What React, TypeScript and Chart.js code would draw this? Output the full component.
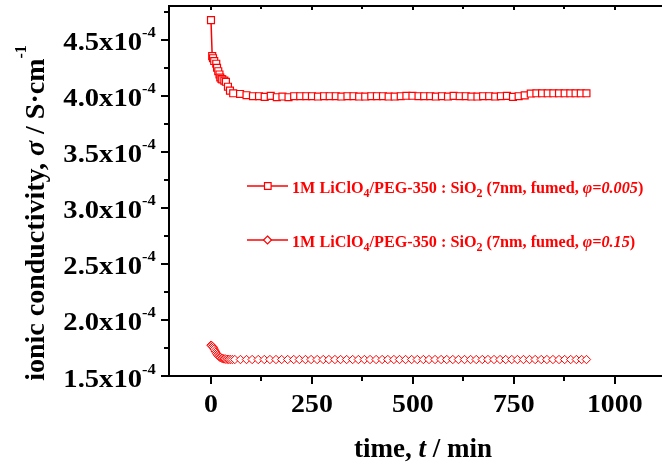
import React, { useEffect, useRef } from 'react';
import { Chart, registerables } from 'chart.js';

Chart.register(...registerables);

// ---- data (time in min, conductivity in S/cm) ----
const sqTime = [0, 3, 5, 8, 13, 15, 18, 21, 23, 26, 28, 33, 37, 42, 47, 55, 72, 88, 104,
  119, 133, 148, 163, 177, 192, 206, 221, 236, 250,
  265, 280, 294, 309, 323, 338, 353, 367, 382, 397,
  411, 426, 440, 455, 470, 484, 499, 514, 528, 543,
  557, 572, 587, 601, 616, 631, 645, 660, 674, 689,
  704, 718, 733, 748, 762, 777,
  792, 806, 820, 834, 848, 862, 876, 890, 903, 916, 930];
const sqSigma = [4.675e-4, 4.354e-4, 4.335e-4, 4.31e-4, 4.286e-4, 4.25e-4, 4.219e-4, 4.19e-4, 4.163e-4, 4.15e-4, 4.146e-4, 4.135e-4, 4.125e-4, 4.081e-4, 4.046e-4, 4.022e-4, 4.016e-4, 4.005e-4, 3.996e-4,
  3.996e-4, 3.99e-4, 3.999e-4, 3.987e-4, 3.993e-4, 3.987e-4, 3.996e-4, 3.996e-4, 3.996e-4, 3.996e-4,
  3.993e-4, 3.996e-4, 3.996e-4, 3.996e-4, 3.993e-4, 3.996e-4, 3.996e-4, 3.993e-4, 3.993e-4, 3.996e-4,
  3.996e-4, 3.996e-4, 3.993e-4, 3.993e-4, 3.996e-4, 4.0e-4, 4.0e-4, 3.996e-4, 3.996e-4, 3.996e-4,
  3.993e-4, 3.996e-4, 3.993e-4, 3.999e-4, 3.996e-4, 3.996e-4, 3.993e-4, 3.993e-4, 3.996e-4, 3.996e-4,
  3.993e-4, 3.996e-4, 3.999e-4, 3.99e-4, 3.996e-4, 4.003e-4,
  4.02e-4, 4.022e-4, 4.022e-4, 4.022e-4, 4.022e-4, 4.022e-4, 4.022e-4, 4.022e-4, 4.022e-4, 4.022e-4, 4.022e-4];

const diTime = [0, 2, 4, 6, 8, 10, 12, 14, 16, 18, 20, 22, 24, 27, 30, 33, 36, 40, 44, 48, 53, 59,
  73, 88, 102, 117, 132, 146, 161, 175, 190, 205,
  219, 234, 248, 263, 278, 292, 307, 321, 336, 351,
  365, 380, 394, 409, 424, 438, 453, 467, 482, 497,
  511, 526, 540, 555, 570, 584, 599, 613, 628, 643,
  657, 672, 686, 701, 716, 730, 745, 759, 774, 789,
  803, 818, 832, 847, 862, 876, 891, 905, 918, 930];
const diSigma = [1.775e-4, 1.77e-4, 1.762e-4, 1.752e-4, 1.74e-4, 1.725e-4, 1.712e-4, 1.7e-4, 1.69e-4, 1.682e-4, 1.675e-4, 1.668e-4, 1.663e-4, 1.658e-4, 1.655e-4, 1.652e-4, 1.65e-4, 1.649e-4, 1.648e-4, 1.647e-4, 1.647e-4, 1.647e-4,
  1.647e-4, 1.647e-4, 1.647e-4, 1.647e-4, 1.647e-4, 1.647e-4, 1.647e-4, 1.647e-4, 1.647e-4, 1.647e-4,
  1.647e-4, 1.647e-4, 1.647e-4, 1.647e-4, 1.647e-4, 1.647e-4, 1.647e-4, 1.647e-4, 1.647e-4, 1.647e-4,
  1.647e-4, 1.647e-4, 1.647e-4, 1.647e-4, 1.647e-4, 1.647e-4, 1.647e-4, 1.647e-4, 1.647e-4, 1.647e-4,
  1.647e-4, 1.647e-4, 1.647e-4, 1.647e-4, 1.647e-4, 1.647e-4, 1.647e-4, 1.647e-4, 1.647e-4, 1.647e-4,
  1.647e-4, 1.647e-4, 1.647e-4, 1.647e-4, 1.647e-4, 1.647e-4, 1.647e-4, 1.647e-4, 1.647e-4, 1.647e-4,
  1.647e-4, 1.647e-4, 1.647e-4, 1.647e-4, 1.647e-4, 1.647e-4, 1.647e-4, 1.647e-4, 1.647e-4, 1.647e-4];

const xMajorTicks = [0, 250, 500, 750, 1000];
const xTickLabels = ['0', '250', '500', '750', '1000'];
const xMinorTicks = [125, 375, 625, 875];
const yMajorTicks = [1.5e-4, 2.0e-4, 2.5e-4, 3.0e-4, 3.5e-4, 4.0e-4, 4.5e-4];
const yTickLabels = ['1.5', '2.0', '2.5', '3.0', '3.5', '4.0', '4.5'];
const yMinorTicks = [1.75e-4, 2.25e-4, 2.75e-4, 3.25e-4, 3.75e-4, 4.25e-4, 4.75e-4];
const yTickExponent = '-4';

const RED = '#ff0000';
const SERIF = '"Liberation Serif", "Times New Roman", serif';

type Seg = { t: string; kind?: 'sub' | 'sup' | 'it' };

function font(size: number, italic = false) {
  return `${italic ? 'italic ' : ''}bold ${size}px ${SERIF}`;
}

function segFont(s: Seg, size: number, small: number) {
  if (s.kind === 'sub' || s.kind === 'sup') return font(small);
  return font(size, s.kind === 'it');
}

function richWidth(ctx: CanvasRenderingContext2D, segs: Seg[], size: number, small: number) {
  let w = 0;
  for (const s of segs) { ctx.font = segFont(s, size, small); w += ctx.measureText(s.t).width; }
  return w;
}

function drawRich(ctx: CanvasRenderingContext2D, x: number, y: number, segs: Seg[], size: number, small: number, subDy: number, supDy: number) {
  let cx = x;
  for (const s of segs) {
    ctx.font = segFont(s, size, small);
    const dy = s.kind === 'sub' ? subDy : s.kind === 'sup' ? -supDy : 0;
    ctx.fillText(s.t, cx, y + dy);
    cx += ctx.measureText(s.t).width;
  }
  return cx - x;
}

const legendItems: { segs: Seg[]; style: string }[] = [
  {
    style: 'rect',
    segs: [{ t: '1M LiClO' }, { t: '4', kind: 'sub' }, { t: '/PEG-350 : SiO' }, { t: '2', kind: 'sub' }, { t: ' (7nm, fumed, ' }, { t: 'φ=0.005', kind: 'it' }, { t: ')' }],
  },
  {
    style: 'rectRot',
    segs: [{ t: '1M LiClO' }, { t: '4', kind: 'sub' }, { t: '/PEG-350 : SiO' }, { t: '2', kind: 'sub' }, { t: ' (7nm, fumed, ' }, { t: 'φ=0.15', kind: 'it' }, { t: ')' }],
  },
];

const decor = {
  id: 'decor',
  afterDraw(chart: any) {
    const { ctx, chartArea: ca } = chart;
    const xs = chart.scales.x;
    const ys = chart.scales.y;
    const W = chart.width;
    ctx.save();
    // nothing belongs at the far right edge of the plot
    ctx.fillStyle = '#fff';
    ctx.fillRect(W - 5, ca.top + 2, 6, ca.bottom - ca.top - 3);
    ctx.strokeStyle = '#000';
    ctx.fillStyle = '#000';
    ctx.lineWidth = 2;
    // frame (left, bottom, top; right side lies beyond the canvas)
    ctx.beginPath();
    ctx.moveTo(ca.left, ca.top - 1);
    ctx.lineTo(ca.left, ca.bottom);
    ctx.lineTo(W + 2, ca.bottom);
    ctx.moveTo(ca.left - 1, ca.top);
    ctx.lineTo(W + 2, ca.top);
    ctx.stroke();
    // x ticks
    ctx.beginPath();
    for (const v of xMajorTicks) {
      const px = Math.round(xs.getPixelForValue(v));
      ctx.moveTo(px, ca.bottom); ctx.lineTo(px, ca.bottom + 8);
      ctx.moveTo(px, ca.top); ctx.lineTo(px, ca.top + 4);
    }
    for (const v of xMinorTicks) {
      const px = Math.round(xs.getPixelForValue(v));
      ctx.moveTo(px, ca.bottom); ctx.lineTo(px, ca.bottom + 5);
      ctx.moveTo(px, ca.top); ctx.lineTo(px, ca.top + 3);
    }
    // y ticks
    for (const v of yMajorTicks) {
      const py = Math.round(ys.getPixelForValue(v));
      ctx.moveTo(ca.left, py); ctx.lineTo(ca.left - 8, py);
    }
    for (const v of yMinorTicks) {
      const py = Math.round(ys.getPixelForValue(v));
      ctx.moveTo(ca.left, py); ctx.lineTo(ca.left - 5, py);
    }
    ctx.stroke();

    // x tick labels
    ctx.textBaseline = 'alphabetic';
    ctx.textAlign = 'center';
    ctx.font = font(26);
    xMajorTicks.forEach((v, i) => {
      const px = xs.getPixelForValue(v);
      ctx.save();
      ctx.translate(px, ca.bottom + 36);
      ctx.scale(1.07, 1);
      ctx.fillText(xTickLabels[i], 0, 0);
      ctx.restore();
    });
    // y tick labels (slightly wide, as in the original)
    yMajorTicks.forEach((v, i) => {
      const py = ys.getPixelForValue(v);
      ctx.save();
      ctx.translate(142, py + 10.5);
      ctx.scale(1.1, 1);
      ctx.textAlign = 'right';
      ctx.font = font(26);
      ctx.fillText(yTickLabels[i] + 'x10', 0, 0);
      ctx.textAlign = 'left';
      ctx.font = font(15);
      ctx.fillText(yTickExponent, 0, -13);
      ctx.restore();
    });

    // x title
    ctx.textAlign = 'left';
    const xt: Seg[] = [{ t: 'time, ' }, { t: 't', kind: 'it' }, { t: ' / min' }];
    const xw = richWidth(ctx, xt, 27, 15);
    drawRich(ctx, 423 - xw / 2, 456.5, xt, 27, 15, 0, 0);

    // y title
    ctx.save();
    ctx.translate(43.5, 213);
    ctx.rotate(-Math.PI / 2);
    const yt: Seg[] = [{ t: 'ionic conductivity, ' }, { t: 'σ', kind: 'it' }, { t: ' / S·cm' }, { t: '-1', kind: 'sup' }];
    const yw = richWidth(ctx, yt, 28, 16);
    drawRich(ctx, -yw / 2, 0, yt, 28, 16, 0, 18);
    ctx.restore();

    // legend
    const rows = [186, 240];
    legendItems.forEach((it, i) => {
      const ly = rows[i];
      ctx.strokeStyle = RED;
      ctx.lineWidth = 1.5;
      ctx.beginPath();
      ctx.moveTo(247, ly); ctx.lineTo(288, ly);
      ctx.stroke();
      ctx.fillStyle = '#fff';
      ctx.lineWidth = 1.2;
      if (it.style === 'rect') {
        ctx.beginPath(); ctx.rect(264.5, ly - 3.3, 6.6, 6.6); ctx.fill(); ctx.stroke();
      } else {
        ctx.beginPath();
        ctx.moveTo(267.5, ly - 4); ctx.lineTo(271.5, ly); ctx.lineTo(267.5, ly + 4); ctx.lineTo(263.5, ly); ctx.closePath();
        ctx.fill(); ctx.stroke();
      }
      ctx.fillStyle = RED;
      ctx.textAlign = 'left';
      drawRich(ctx, 292, ly + 7.3, it.segs, 16.2, 12, 4, 0);
    });
    ctx.restore();
  },
};

export default function App() {
  const ref = useRef<HTMLCanvasElement | null>(null);
  useEffect(() => {
    document.body.style.margin = '0';
    const canvas = ref.current;
    if (!canvas) return;
    const chart = new Chart(canvas, {
      type: 'line',
      data: {
        datasets: [
          {
            label: 'phi=0.005',
            data: sqTime.map((t, i) => ({ x: t, y: sqSigma[i] })),
            borderColor: RED,
            backgroundColor: '#fff',
            borderWidth: 1.5,
            pointStyle: 'rect',
            pointRadius: 4.9,
            pointBorderWidth: 1.2,
            pointBorderColor: RED,
            pointBackgroundColor: '#fff',
            tension: 0,
          },
          {
            label: 'phi=0.15',
            data: diTime.map((t, i) => ({ x: t, y: diSigma[i] })),
            borderColor: RED,
            backgroundColor: '#fff',
            borderWidth: 1.5,
            pointStyle: 'rectRot',
            pointRadius: 4.2,
            pointBorderWidth: 1,
            pointBorderColor: RED,
            pointBackgroundColor: '#fff',
            tension: 0,
          },
        ],
      },
      options: {
        responsive: false,
        animation: false,
        events: [],
        layout: { padding: { top: 2, right: 0, left: 0, bottom: 0 } },
        plugins: { legend: { display: false }, tooltip: { enabled: false } },
        scales: {
          x: {
            type: 'linear',
            min: -104,
            max: 1102,
            grid: { display: false },
            border: { display: false },
            ticks: { display: false },
            afterFit: (s: any) => { s.height = 92; },
          },
          y: {
            type: 'linear',
            min: 1.5e-4,
            max: 4.8e-4,
            grid: { display: false },
            border: { display: false },
            ticks: { display: false },
            afterFit: (s: any) => { s.width = 169; },
          },
        },
      },
      plugins: [decor],
    });
    return () => chart.destroy();
  }, []);
  return (
    <div style={{ width: 662, height: 468 }}>
      <canvas ref={ref} width={662} height={468} style={{ display: 'block' }} />
    </div>
  );
}
